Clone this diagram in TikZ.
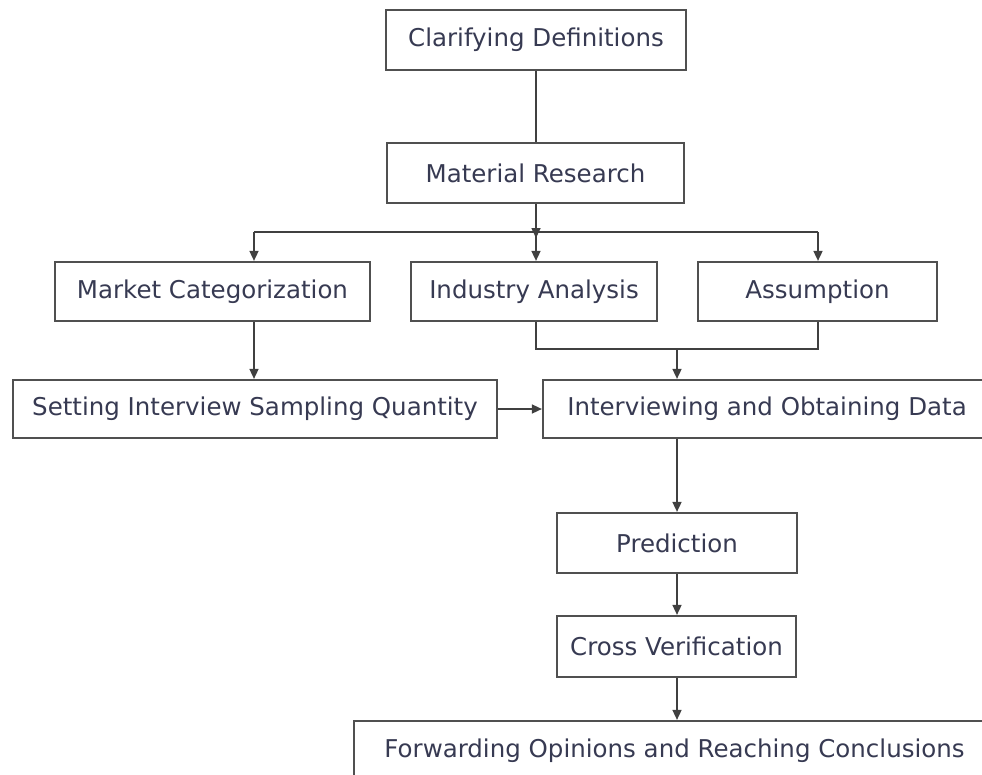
\documentclass[tikz,border=0pt]{standalone}
\usepackage{fontspec}
\setmainfont{DejaVu Sans}
\usetikzlibrary{arrows.meta}
\definecolor{boxline}{RGB}{80,80,80}
\definecolor{txtcol}{RGB}{55,58,82}
\tikzset{
  stepbox/.style={draw=boxline, line width=2.2pt, fill=white, text=txtcol,
    minimum height=60pt, inner sep=0pt, font=\fontsize{24.5}{28}\selectfont},
  link/.style={draw=black!75, line width=1.6pt},
  arr/.style={link, -{Triangle[length=10pt,width=9pt]}}
}
\begin{document}
\begin{tikzpicture}[x=1pt,y=-1pt]
			\useasboundingbox (0,0) rectangle (982,774);
			\clip (0,0) rectangle (982,774);
			\def\ya{232} \def\yb{349}
			\node[stepbox, minimum width=300pt] (clar) at (536,40) {Clarifying Definitions};
			\node[stepbox, minimum width=297pt] (mat) at (535.5,173) {Material Research};
			\node[stepbox, minimum width=315pt, minimum height=59pt] (market) at (212.5,291.5) {Market Categorization};
			\node[stepbox, minimum width=246pt, minimum height=59pt] (ind) at (534,291.5) {Industry Analysis};
			\node[stepbox, minimum width=239pt, minimum height=59pt] (assum) at (817.5,291.5) {Assumption};
			\node[stepbox, minimum width=484pt, minimum height=58pt] (setting) at (255,409) {Setting Interview Sampling Quantity};
			\node[stepbox, minimum width=448pt, minimum height=58pt] (interv) at (767,409) {Interviewing and Obtaining Data};
			\node[stepbox, minimum width=240pt] (pred) at (677,543) {Prediction};
			\node[stepbox, minimum width=239pt, minimum height=61pt] (cross) at (676.5,646.5) {Cross Verification};
			\node[stepbox, minimum width=641pt] (forw) at (674.5,751) {Forwarding Opinions and Reaching Conclusions};
			% top part
			\coordinate (j1) at (536,\ya);
			\coordinate (jm) at (254,\ya);
			\coordinate (ja) at (818,\ya);
			\draw[link] (clar.south -| j1) -- (mat.north -| j1);
			\draw[arr] (mat.south -| j1) -- ([yshift=-6pt]j1);
			\draw[link] (jm) -- (ja);
			\draw[arr] (jm) -- (market.north -| jm);
			\draw[arr] (j1) -- (ind.north -| j1);
			\draw[arr] (ja) -- (assum.north -| ja);
			% merge into interviews
			\coordinate (k1) at (536,\yb);
			\coordinate (k2) at (818,\yb);
			\coordinate (km) at (677,\yb);
			\draw[link] (ind.south -| k1) -- (k1) -- (k2) -- (assum.south -| k2);
			\draw[arr] (km) -- (interv.north -| km);
			\draw[arr] (market.south -| jm) -- (setting.north -| jm);
			\draw[arr] (setting.east) -- (interv.west);
			% bottom chain
			\draw[arr] (interv.south -| km) -- (pred.north -| km);
			\draw[arr] (pred.south -| km) -- (cross.north -| km);
			\draw[arr] (cross.south -| km) -- (forw.north -| km);
		\end{tikzpicture}
\end{document}
